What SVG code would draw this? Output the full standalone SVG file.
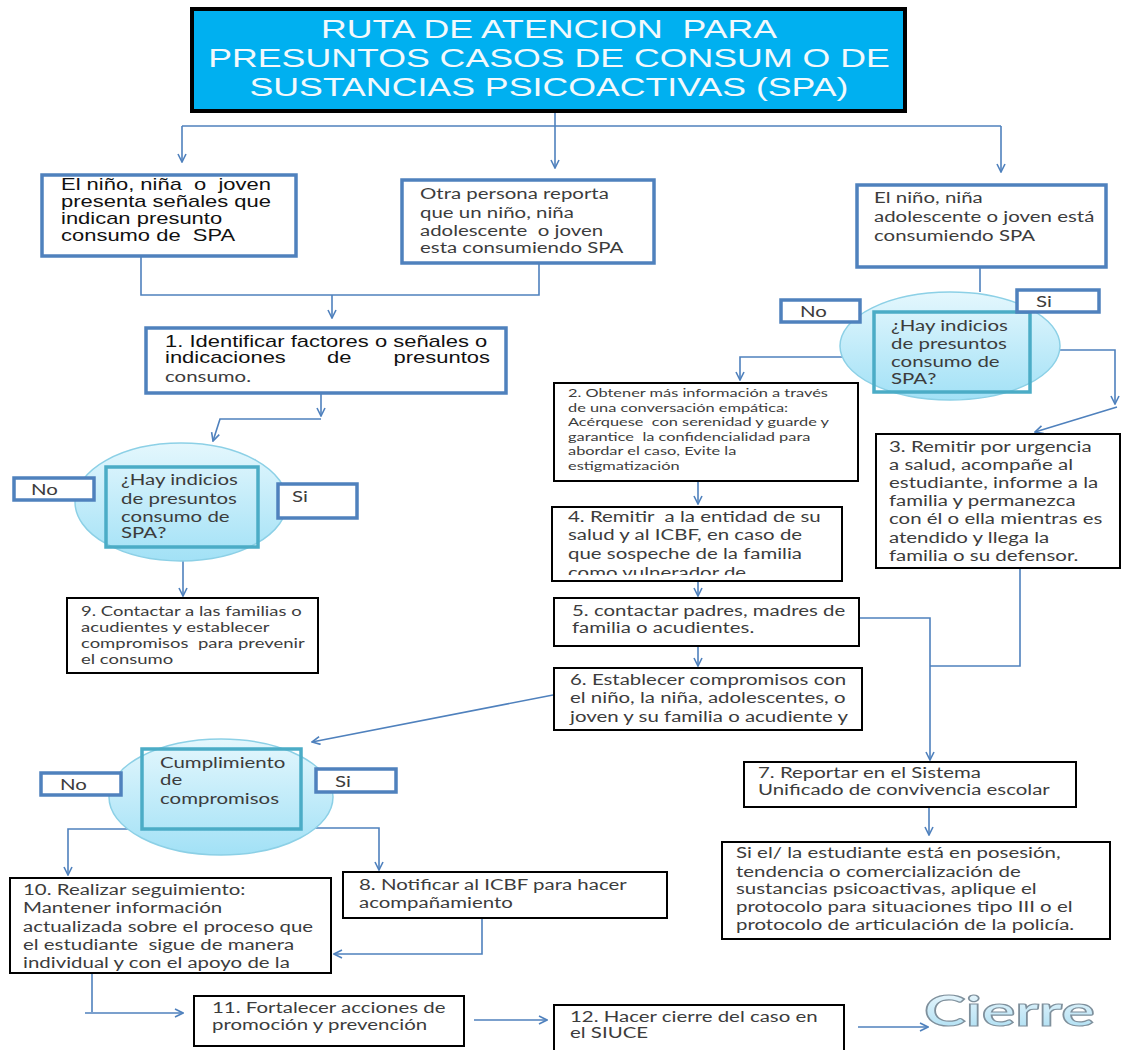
<svg xmlns="http://www.w3.org/2000/svg" width="1123" height="1050" viewBox="0 0 1123 1050" xml:space="preserve">
<defs>
<linearGradient id="eg" x1="0" y1="0" x2="0" y2="1"><stop offset="0" stop-color="#E4F7FD"/><stop offset="1" stop-color="#A2E1F6"/></linearGradient>
<linearGradient id="cg" x1="0" y1="0" x2="0" y2="1"><stop offset="0" stop-color="#F2FAFE"/><stop offset="1" stop-color="#A9DDF2"/></linearGradient>
<marker id="ah" viewBox="0 0 10 10" refX="9" refY="5" markerWidth="10" markerHeight="10" markerUnits="userSpaceOnUse" orient="auto"><path d="M1,1 L9,5 L1,9" fill="none" stroke="#4F81BD" stroke-width="1.6"/></marker>
<clipPath id="c4"><rect x="552" y="507" width="290" height="68"/></clipPath>
</defs>
<style>
text{white-space:pre}
.bb{fill:#fff;stroke:#4F81BD;stroke-width:3.5}
.kb{fill:#fff;stroke:#000;stroke-width:2}
.ell{fill:url(#eg);stroke:#8CD0E6;stroke-width:1.5}
.ir{fill:none;stroke:#4BACC6;stroke-width:3.5}
.cn{fill:none;stroke:#4F81BD;stroke-width:1.6}
.ar{marker-end:url(#ah)}
.t{font-family:Lato,"Open Sans",sans-serif;font-size:14.6px;fill:#3c3c3c}
.s{font-size:13.2px}
.xs{font-size:11.7px}
.a{font-family:"Liberation Sans",Arial,sans-serif;font-size:15.7px;fill:#111}
.ttl{font-family:"Liberation Sans",Arial,sans-serif;font-size:25.5px;fill:#F2F9FC;text-anchor:middle}
.cie{font-family:Lato,"Open Sans",sans-serif;font-weight:bold;font-size:42px;fill:url(#cg);stroke:#7F909C;stroke-width:1.2}
</style>
<rect width="1123" height="1050" fill="#fff"/>

<g id="connectors">
<path class="cn ar" d="M555,111 V168"/>
<path class="cn" d="M182,126 H1001"/>
<path class="cn ar" d="M182,126 V162"/>
<path class="cn ar" d="M1001,126 V172"/>
<path class="cn" d="M141,256 V295 H539 V263"/>
<path class="cn ar" d="M332,295 V318"/>
<path class="cn ar" d="M321,393 V416"/>
<path class="cn ar" d="M321,419 H220 L213,441"/>
<path class="cn ar" d="M183,561 V596"/>
<path class="cn" d="M980,267 V292"/>
<path class="cn ar" d="M842,357 H740 V380"/>
<path class="cn ar" d="M1059,350 H1115 V404"/>
<path class="cn ar" d="M1117,407 L1035,432"/>
<path class="cn ar" d="M698,481 V504"/>
<path class="cn ar" d="M698,581 V596"/>
<path class="cn ar" d="M698,646 V666"/>
<path class="cn ar" d="M859,618 H930 V760"/>
<path class="cn" d="M1020,568 V666 H930"/>
<path class="cn ar" d="M553,695 L312,742"/>
<path class="cn ar" d="M929,807 V835"/>
<path class="cn ar" d="M132,829 H68 V875"/>
<path class="cn ar" d="M304,828 H379 V870"/>
<path class="cn ar" d="M482,918 V954 H334"/>
<path class="cn" d="M92,973 V1012"/>
<path class="cn ar" d="M85,1013 H183"/>
<path class="cn ar" d="M474,1020 H547"/>
<path class="cn ar" d="M858,1027 H928"/>
</g>

<g id="title"><rect x="192" y="9" width="713" height="102" fill="#00B0F0" stroke="#000" stroke-width="4"/><text class="ttl" transform="translate(549,38) scale(1.4,1)"><tspan x="0" y="0">RUTA DE ATENCION  PARA</tspan><tspan x="0" y="29">PRESUNTOS CASOS DE CONSUM O DE</tspan><tspan x="0" y="58">SUSTANCIAS PSICOACTIVAS (SPA)</tspan></text></g>

<g id="nodeA"><rect class="bb" x="42" y="175" width="254" height="81"/><text class="a" transform="translate(61,190) scale(1.4,1)"><tspan x="0" y="0">El niño, niña  o  joven</tspan><tspan x="0" y="17">presenta señales que</tspan><tspan x="0" y="34">indican presunto</tspan><tspan x="0" y="51">consumo de  SPA</tspan></text></g>

<g id="nodeB"><rect class="bb" x="402" y="180" width="252" height="83"/><text class="t" transform="translate(420,199) scale(1.4,1)"><tspan x="0" y="0">Otra persona reporta</tspan><tspan x="0" y="19">que un niño, niña</tspan><tspan x="0" y="37">adolescente  o joven</tspan><tspan x="0" y="54">esta consumiendo SPA</tspan></text></g>

<g id="nodeC"><rect class="bb" x="857" y="185" width="249" height="82"/><text class="t" transform="translate(874,203) scale(1.4,1)"><tspan x="0" y="0">El niño, niña</tspan><tspan x="0" y="19">adolescente o joven está</tspan><tspan x="0" y="38">consumiendo SPA</tspan></text></g>

<g id="node1"><rect class="bb" x="146" y="328" width="360" height="65"/><text class="a" transform="translate(165,347) scale(1.4,1)">1. Identificar factores o señales o</text><text class="a" transform="translate(165,363) scale(1.4,1)">indicaciones</text><text class="a" transform="translate(327,363) scale(1.4,1)">de</text><text class="a" transform="translate(490,363) scale(1.4,1)" text-anchor="end">presuntos</text><text class="t" transform="translate(165,382) scale(1.4,1)">consumo.</text></g>

<g id="decision1"><ellipse class="ell" cx="181" cy="502" rx="106" ry="59"/><rect class="ir" x="106" y="467" width="152" height="80"/><text class="t" transform="translate(121,485) scale(1.4,1)"><tspan x="0" y="0">¿Hay indicios</tspan><tspan x="0" y="19">de presuntos</tspan><tspan x="0" y="37">consumo de</tspan><tspan x="0" y="53">SPA?</tspan></text></g>
<g id="no1"><rect class="bb" x="14" y="478" width="80" height="22"/><text class="t" transform="translate(31,495) scale(1.4,1)">No</text></g>
<g id="si1"><rect class="bb" x="278" y="484" width="79" height="34"/><text class="t" transform="translate(292,502) scale(1.4,1)">Si</text></g>

<g id="node9"><rect class="kb" x="67" y="598" width="251" height="75"/><text class="t s" transform="translate(81,616) scale(1.4,1)"><tspan x="0" y="0">9. Contactar a las familias o</tspan><tspan x="0" y="16">acudientes y establecer</tspan><tspan x="0" y="32">compromisos  para prevenir</tspan><tspan x="0" y="48">el consumo</tspan></text></g>

<g id="decision2"><ellipse class="ell" cx="950" cy="346" rx="110" ry="54"/><rect class="ir" x="874" y="312" width="156" height="80"/><text class="t" transform="translate(891,331) scale(1.4,1)"><tspan x="0" y="0">¿Hay indicios</tspan><tspan x="0" y="18">de presuntos</tspan><tspan x="0" y="36">consumo de</tspan><tspan x="0" y="53">SPA?</tspan></text></g>
<g id="no2"><rect class="bb" x="781" y="300" width="79" height="22"/><text class="t" transform="translate(800,317) scale(1.4,1)">No</text></g>
<g id="si2"><rect class="bb" x="1017" y="290" width="82" height="22"/><text class="t" transform="translate(1036,307) scale(1.4,1)">Si</text></g>

<g id="node2"><rect class="kb" x="554" y="383" width="304" height="98"/><text class="t xs" transform="translate(568,397) scale(1.4,1)"><tspan x="0" y="0">2. Obtener más información a través</tspan><tspan x="0" y="15">de una conversación empática:</tspan><tspan x="0" y="29">Acérquese  con serenidad y guarde y</tspan><tspan x="0" y="44">garantice  la confidencialidad para</tspan><tspan x="0" y="58">abordar el caso, Evite la</tspan><tspan x="0" y="73">estigmatización</tspan></text></g>

<g id="node3"><rect class="kb" x="876" y="434" width="244" height="134"/><text class="t" transform="translate(889,452) scale(1.4,1)"><tspan x="0" y="0">3. Remitir por urgencia</tspan><tspan x="0" y="18">a salud, acompañe al</tspan><tspan x="0" y="36">estudiante, informe a la</tspan><tspan x="0" y="54">familia y permanezca</tspan><tspan x="0" y="72">con él o ella mientras es</tspan><tspan x="0" y="91">atendido y llega la</tspan><tspan x="0" y="109">familia o su defensor.</tspan></text></g>

<g id="node4"><rect class="kb" x="552" y="507" width="290" height="74"/><g clip-path="url(#c4)"><text class="t" transform="translate(568,522) scale(1.4,1)"><tspan x="0" y="0">4. Remitir  a la entidad de su</tspan><tspan x="0" y="18.5">salud y al ICBF, en caso de</tspan><tspan x="0" y="37">que sospeche de la familia</tspan><tspan x="0" y="56">como vulnerador de</tspan></text></g></g>

<g id="node5"><rect class="kb" x="554" y="598" width="305" height="48"/><text class="t" transform="translate(572,616) scale(1.4,1)"><tspan x="0" y="0">5. contactar padres, madres de</tspan><tspan x="0" y="17">familia o acudientes.</tspan></text></g>

<g id="node6"><rect class="kb" x="554" y="668" width="308" height="62"/><text class="t" transform="translate(570,685) scale(1.4,1)"><tspan x="0" y="0">6. Establecer compromisos con</tspan><tspan x="0" y="18">el niño, la niña, adolescentes, o</tspan><tspan x="0" y="37">joven y su familia o acudiente y</tspan></text></g>

<g id="node7"><rect class="kb" x="744" y="762" width="332" height="45"/><text class="t" transform="translate(758,778) scale(1.4,1)"><tspan x="0" y="0">7. Reportar en el Sistema</tspan><tspan x="0" y="17">Unificado de convivencia escolar</tspan></text></g>

<g id="nodeProtocolo"><rect class="kb" x="722" y="842" width="388" height="97"/><text class="t" transform="translate(736,858) scale(1.4,1)"><tspan x="0" y="0">Si el/ la estudiante está en posesión,</tspan><tspan x="0" y="19">tendencia o comercialización de</tspan><tspan x="0" y="36">sustancias psicoactivas, aplique el</tspan><tspan x="0" y="54">protocolo para situaciones tipo III o el</tspan><tspan x="0" y="72">protocolo de articulación de la policía.</tspan></text></g>

<g id="decision3"><ellipse class="ell" cx="221" cy="797" rx="112" ry="58"/><rect class="ir" x="142" y="749" width="159" height="80"/><text class="t" transform="translate(160,768) scale(1.4,1)"><tspan x="0" y="0">Cumplimiento</tspan><tspan x="0" y="17">de</tspan><tspan x="0" y="36">compromisos</tspan></text></g>
<g id="no3"><rect class="bb" x="41" y="773" width="80" height="22"/><text class="t" transform="translate(60,790) scale(1.4,1)">No</text></g>
<g id="si3"><rect class="bb" x="316" y="769" width="80" height="23"/><text class="t" transform="translate(335,787) scale(1.4,1)">Si</text></g>

<g id="node10"><rect class="kb" x="10" y="878" width="321" height="95"/><text class="t" transform="translate(23,895) scale(1.4,1)"><tspan x="0" y="0">10. Realizar seguimiento:</tspan><tspan x="0" y="18">Mantener información</tspan><tspan x="0" y="37">actualizada sobre el proceso que</tspan><tspan x="0" y="55">el estudiante  sigue de manera</tspan><tspan x="0" y="73">individual y con el apoyo de la</tspan></text></g>

<g id="node8"><rect class="kb" x="343" y="872" width="324" height="46"/><text class="t" transform="translate(359,890) scale(1.4,1)"><tspan x="0" y="0">8. Notificar al ICBF para hacer</tspan><tspan x="0" y="18">acompañamiento</tspan></text></g>

<g id="node11"><rect class="kb" x="194" y="996" width="270" height="50"/><text class="t" transform="translate(212,1013) scale(1.4,1)"><tspan x="0" y="0">11. Fortalecer acciones de</tspan><tspan x="0" y="17">promoción y prevención</tspan></text></g>

<g id="node12"><rect class="kb" x="554" y="1005" width="290" height="56"/><text class="t" transform="translate(570,1022) scale(1.4,1)"><tspan x="0" y="0">12. Hacer cierre del caso en</tspan><tspan x="0" y="16">el SIUCE</tspan></text></g>

<g id="cierre"><text class="cie" transform="translate(924,1026) scale(1.5,1)">Cierre</text></g>
</svg>
